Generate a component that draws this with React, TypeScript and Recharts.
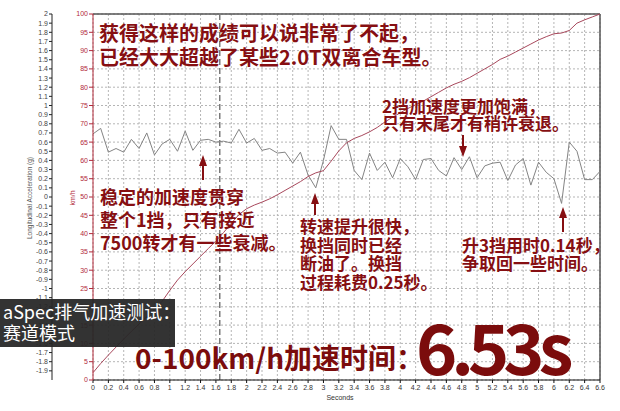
import {
  LineChart,
  Line,
  XAxis,
  YAxis,
  CartesianGrid,
  ReferenceLine,
} from "recharts";

// time axis, 0.1 s samples
const seconds = [
  0, 0.1, 0.2, 0.3, 0.4, 0.5, 0.6, 0.7, 0.8, 0.9,
  1, 1.1, 1.2, 1.3, 1.4, 1.5, 1.6, 1.7, 1.8, 1.9,
  2, 2.1, 2.2, 2.3, 2.4, 2.5, 2.6, 2.7, 2.8, 2.9,
  3, 3.1, 3.2, 3.3, 3.4, 3.5, 3.6, 3.7, 3.8, 3.9,
  4, 4.1, 4.2, 4.3, 4.4, 4.5, 4.6, 4.7, 4.8, 4.9,
  5, 5.1, 5.2, 5.3, 5.4, 5.5, 5.6, 5.7, 5.8, 5.9,
  6, 6.1, 6.2, 6.3, 6.4, 6.5, 6.6,
];

// longitudinal acceleration (g)
const accelG = [
  0.69, 0.75, 0.49, 0.53, 0.49, 0.63, 0.53, 0.7, 0.46, 0.58,
  0.63, 0.5, 0.72, 0.51, 0.62, 0.63, 0.6, 0.61, 0.59, 0.74,
  0.59, 0.64, 0.51, 0.53, 0.48, 0.49, 0.37, 0.49, 0.24, 0.1,
  0.4, 0.78, 0.63, 0.63, 0.29, 0.19, 0.48, 0.29, 0.38, 0.21,
  0.42, 0.33, 0.19, 0.41, 0.42, 0.29, 0.23, 0.43, 0.3, 0.44,
  0.21, 0.34, 0.37, 0.38, 0.18, 0.35, 0.42, 0.13, 0.38, 0.27,
  0.2, -0.07, 0.6, 0.5, 0.19, 0.19, 0.28,
];

// speed (km/h)
const speedKmh = [
  2, 4.5, 6.8, 9, 11.2, 13.3, 15.3, 17.3, 19.3, 21.5,
  24.5, 27.3, 29.6, 31.7, 33.8, 35.9, 38, 40.3, 42.8, 45.2,
  46.8, 47.8, 48.6, 49.5, 50.6, 51.8, 53, 54.2, 55.6, 56.6,
  57.2, 59.8, 62.6, 64.8, 66, 66.8, 67.8, 69, 70.5, 71.8,
  73, 74.2, 75.2, 76.2, 77.4, 78.6, 79.8, 80.8, 81.6, 82.6,
  83.8, 85, 86.2, 87.6, 88.5, 89.6, 90.7, 91.8, 92.9, 93.8,
  94.6, 94.8, 95.5, 97.5, 98.4, 99.2, 100,
];

const timeTicks = [
  0, 0.2, 0.4, 0.6, 0.8, 1, 1.2, 1.4, 1.6, 1.8, 2, 2.2, 2.4, 2.6, 2.8, 3,
  3.2, 3.4, 3.6, 3.8, 4, 4.2, 4.4, 4.6, 4.8, 5, 5.2, 5.4, 5.6, 5.8, 6, 6.2,
  6.4, 6.6,
];

const gTicks = [
  -1.9, -1.8, -1.7, -1.6, -1.5, -1.4, -1.3, -1.2, -1.1, -1, -0.9, -0.8, -0.7,
  -0.6, -0.5, -0.4, -0.3, -0.2, -0.1, 0, 0.1, 0.2, 0.3, 0.4, 0.5, 0.6, 0.7,
  0.8, 0.9, 1, 1.1, 1.2, 1.3, 1.4, 1.5, 1.6, 1.7, 1.8, 1.9, 2,
];

const kmhTicks = [
  0, 5, 10, 15, 20, 25, 30, 35, 40, 45, 50, 55, 60, 65, 70, 75, 80, 85, 90,
  95, 100,
];

const shiftTime = 1.65;

const data = seconds.map((t, i) => ({
  t,
  accel: accelG[i],
  speed: speedKmh[i],
}));

// axis ids: "a" = km/h (inner), "b" = g (outer)
const KMH = "a";
const G = "b";

const RED = "#b22a3a";
const NOTE = "#860f12";
const CJK = '"Noto Sans CJK SC", "Noto Sans", sans-serif';

function Arrow({ x, from, to }: { x: number; from: number; to: number }) {
  const dir = to < from ? 1 : -1; // 1 = pointing up
  const headLen = 11;
  const baseY = to + dir * headLen;
  return (
    <g>
      <line x1={x} y1={from} x2={x} y2={baseY} stroke={NOTE} strokeWidth={2} />
      <polygon
        points={`${x},${to} ${x - 4},${baseY} ${x + 4},${baseY}`}
        fill={NOTE}
      />
    </g>
  );
}

function Note({
  left,
  top,
  size,
  lh,
  lines,
}: {
  left: number;
  top: number;
  size: number;
  lh: number;
  lines: string[];
}) {
  return (
    <div
      style={{
        position: "absolute",
        left,
        top,
        fontFamily: CJK,
        fontWeight: 700,
        fontSize: size,
        lineHeight: `${lh}px`,
        color: NOTE,
        whiteSpace: "nowrap",
      }}
    >
      {lines.map((l) => (
        <div key={l}>{l}</div>
      ))}
    </div>
  );
}

export default function App() {
  return (
    <div
      style={{
        position: "absolute",
        left: 0,
        top: 0,
        width: 620,
        height: 411,
        background: "#fff",
        overflow: "hidden",
      }}
    >
      <LineChart
        width={620}
        height={411}
        data={data}
        margin={{ top: 14, right: 20, bottom: 0, left: 0 }}
      >
        <CartesianGrid yAxisId={KMH} stroke="#b5b5b5" strokeDasharray="2 2" />
        <XAxis
          dataKey="t"
          type="number"
          domain={[0, 6.6]}
          ticks={timeTicks}
          interval={0}
          height={31}
          tickSize={3}
          tickMargin={2}
          stroke="#111"
          tick={{ fontSize: 7, fill: "#333", fontFamily: "Liberation Sans" }}
        />
        <YAxis
          yAxisId={KMH}
          orientation="left"
          domain={[0, 100]}
          ticks={kmhTicks}
          interval={0}
          width={41}
          tickSize={4}
          tickMargin={1}
          stroke={RED}
          tick={{ fontSize: 7, fill: RED, fontFamily: "Liberation Sans" }}
        />
        <YAxis
          yAxisId={G}
          orientation="left"
          domain={[-2, 2]}
          ticks={gTicks}
          interval={0}
          width={52}
          tickSize={3}
          tickMargin={1}
          stroke="#222"
          tick={{ fontSize: 7, fill: "#444", fontFamily: "Liberation Sans" }}
        />
        <ReferenceLine yAxisId={KMH} y={100} stroke="#555" strokeWidth={1.5} />
        <ReferenceLine yAxisId={KMH} x={6.6} stroke="#555" strokeWidth={1.5} />
        <ReferenceLine
          yAxisId={KMH}
          x={shiftTime}
          stroke="#7a7a7a"
          strokeWidth={1.5}
          strokeDasharray="6 3"
        />
        <Line
          yAxisId={G}
          dataKey="accel"
          type="linear"
          stroke="#848484"
          strokeWidth={1}
          dot={false}
          isAnimationActive={false}
        />
        <Line
          yAxisId={KMH}
          dataKey="speed"
          type="linear"
          stroke="#a8485c"
          strokeWidth={1}
          dot={false}
          isAnimationActive={false}
        />
      </LineChart>

      <svg
        width={620}
        height={411}
        style={{ position: "absolute", left: 0, top: 0, pointerEvents: "none" }}
      >
        <text
          transform="rotate(-90 30 198)"
          x={30}
          y={198}
          textAnchor="middle"
          dominantBaseline="middle"
          fontSize={6.5}
          fill="#555"
          fontFamily="Liberation Sans"
        >
          Longitudinal Acceleration (g)
        </text>
        <text
          transform="rotate(-90 73 198)"
          x={73}
          y={198}
          textAnchor="middle"
          dominantBaseline="middle"
          fontSize={7}
          fill={RED}
          fontFamily="Liberation Sans"
        >
          km/h
        </text>
        <text
          x={340}
          y={400}
          textAnchor="middle"
          fontSize={7}
          fill="#333"
          fontFamily="Liberation Sans"
        >
          Seconds
        </text>
        <Arrow x={203} from={180} to={155} />
        <Arrow x={315} from={215} to={193} />
        <Arrow x={463} from={135} to={157} />
        <Arrow x={563} from={232} to={207} />
      </svg>

      <Note
        left={99}
        top={21}
        size={20}
        lh={24}
        lines={["获得这样的成绩可以说非常了不起，", "已经大大超越了某些2.0T双离合车型。"]}
      />
      <Note
        left={382}
        top={97}
        size={17}
        lh={17}
        lines={["2挡加速度更加饱满，", "只有末尾才有稍许衰退。"]}
      />
      <Note
        left={100}
        top={185}
        size={18}
        lh={23}
        lines={["稳定的加速度贯穿", "整个1挡，只有接近", "7500转才有一些衰减。"]}
      />
      <Note
        left={300}
        top={217}
        size={17}
        lh={18.7}
        lines={["转速提升很快，", "换挡同时已经", "断油了。换挡", "过程耗费0.25秒。"]}
      />
      <Note
        left={462}
        top={236}
        size={17}
        lh={17.5}
        lines={["升3挡用时0.14秒，", "争取回一些时间。"]}
      />

      <div
        style={{
          position: "absolute",
          left: 0,
          top: 299,
          width: 175,
          height: 48,
          background: "rgba(38,38,38,0.94)",
          color: "#fff",
          fontFamily: CJK,
          fontSize: 18,
          lineHeight: "21px",
          padding: "2px 0 0 3px",
          boxSizing: "border-box",
          whiteSpace: "nowrap",
        }}
      >
        <div>aSpec排气加速测试：</div>
        <div>赛道模式</div>
      </div>

      <div
        style={{
          position: "absolute",
          left: 135,
          top: 340,
          fontFamily: CJK,
          fontWeight: 700,
          fontSize: 28,
          lineHeight: "34px",
          color: "#7b0c0c",
          whiteSpace: "nowrap",
        }}
      >
        0-100km/h加速时间：
      </div>
      <div
        style={{
          position: "absolute",
          left: 416,
          top: 305,
          fontFamily: CJK,
          fontWeight: 700,
          fontSize: 70,
          lineHeight: "80px",
          letterSpacing: -6,
          color: "#7b0c0c",
          whiteSpace: "nowrap",
        }}
      >
        6.53s
      </div>
    </div>
  );
}
